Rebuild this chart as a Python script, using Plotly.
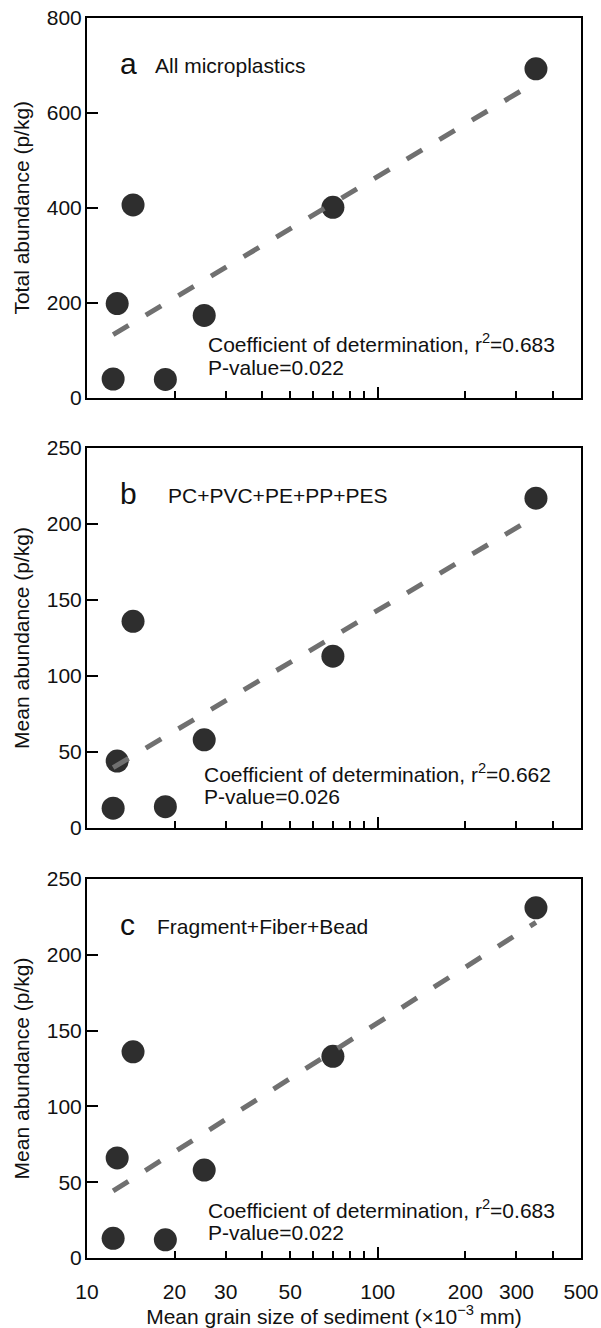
import numpy as np
import plotly.graph_objects as go

# ---- data ----
grain_size = [12.3, 12.7, 14.4, 18.6, 25.3, 70.1, 350.0]
total_abundance = [39, 198, 406, 38, 173, 401, 693]
polymer_abundance = [13, 44, 136, 14, 58, 113, 217]
shape_abundance = [13, 66, 136, 12, 58, 133, 231]

panel_letters = ["a", "b", "c"]
panel_titles = ["All microplastics", "PC+PVC+PE+PP+PES", "Fragment+Fiber+Bead"]
r2_labels = ["0.683", "0.662", "0.683"]
p_labels = ["0.022", "0.026", "0.022"]
y_titles = ["Total abundance (p/kg)", "Mean abundance (p/kg)", "Mean abundance (p/kg)"]
y_ranges = [[0, 800], [0, 250], [0, 250]]
y_dticks = [200, 50, 50]

x_label_vals = [10, 20, 30, 50, 100, 200, 300, 500]
x_minor_vals = [40, 60, 70, 80, 90, 400]
x_title = "Mean grain size of sediment (×10<sup>−3</sup> mm)"

series = [total_abundance, polymer_abundance, shape_abundance]

FONT = "Liberation Sans, Arial, sans-serif"
TXT = "#111111"
MARK = "#2e2e2e"
LINEC = "#707070"

W, H = 601, 1328
M_L, M_R, M_T, M_B = 87, 20, 18, 70
plot_h = H - M_T - M_B
def dom(top_px, bot_px):
    return [(plot_h - (bot_px - M_T)) / plot_h, (plot_h - (top_px - M_T)) / plot_h]
# panel boxes in page pixels (top, bottom)
domains = [dom(18, 397.5), dom(448, 828), dom(879, 1258)]

fig = go.Figure()
lx = np.log10(np.array(grain_size))
for i, ys in enumerate(series):
    ax = "" if i == 0 else str(i + 1)
    fig.add_trace(go.Scatter(
        x=grain_size, y=ys, mode="markers", xaxis="x" + ax, yaxis="y" + ax,
        marker=dict(size=23, color=MARK, line=dict(width=0)),
        showlegend=False, hoverinfo="skip"))
    slope, icpt = np.polyfit(lx, np.array(ys, dtype=float), 1)
    xf = np.array([min(grain_size), max(grain_size)])
    yf = icpt + slope * np.log10(xf)
    fig.add_trace(go.Scatter(
        x=xf, y=yf, mode="lines", xaxis="x" + ax, yaxis="y" + ax,
        line=dict(color=LINEC, width=5, dash="18px,20px"),
        showlegend=False, hoverinfo="skip"))
    # overlay axis carrying the longer tick at 100
    fig.add_trace(go.Scatter(
        x=[100], y=[y_ranges[i][0]], mode="markers", xaxis="x" + str(i + 4), yaxis="y" + ax,
        marker=dict(size=1, opacity=0), showlegend=False, hoverinfo="skip"))

layout = dict(
    width=W, height=H,
    margin=dict(l=M_L, r=M_R, t=M_T, b=M_B, autoexpand=False),
    paper_bgcolor="white", plot_bgcolor="white",
    font=dict(family=FONT, size=21, color=TXT),
    showlegend=False,
)

annotations = []
for i in range(3):
    ax = "" if i == 0 else str(i + 1)
    xname = "xaxis" + ax
    yname = "yaxis" + ax
    xa = dict(
        type="log", range=[1, np.log10(500)], domain=[0, 1], anchor="y" + ax,
        automargin=False, ticklabeloverflow="allow",
        showline=True, linecolor="black", linewidth=2, mirror=True,
        showgrid=False, zeroline=False,
        ticks="inside", ticklen=7, tickwidth=2, tickcolor="black",
        tickmode="array", tickvals=x_label_vals, ticktext=[str(v) for v in x_label_vals],
        minor=dict(tickmode="array", tickvals=x_minor_vals, ticks="inside", ticklen=7,
                   tickwidth=2, tickcolor="black", showgrid=False),
        showticklabels=(i == 2), ticklabelstandoff=14,
        tickfont=dict(size=21, color=TXT),
    )
    if i == 2:
        xa["title"] = dict(text=x_title, font=dict(size=21, color=TXT), standoff=10)
    layout[xname] = xa
    layout["xaxis" + str(i + 4)] = dict(
        type="log", range=[1, np.log10(500)], overlaying="x" + ax, anchor="y" + ax,
        automargin=False,
        showline=False, showgrid=False, zeroline=False, showticklabels=False,
        ticks="inside", ticklen=11, tickwidth=2, tickcolor="black",
        tickmode="array", tickvals=[100], side="bottom",
    )
    layout[yname] = dict(
        range=y_ranges[i], domain=domains[i], anchor="x" + ax,
        automargin=False, ticklabeloverflow="allow",
        showline=True, linecolor="black", linewidth=2, mirror=True,
        showgrid=False, zeroline=False,
        ticks="inside", ticklen=11, tickwidth=2, tickcolor="black",
        dtick=y_dticks[i], tick0=0, ticklabelstandoff=-1,
        tickfont=dict(size=21, color=TXT),
        title=dict(text=y_titles[i], font=dict(size=21, color=TXT), standoff=11),
    )
    xr = "x" + ax + " domain"
    yr = "y" + ax + " domain"
    annotations += [
        dict(text=panel_letters[i], xref=xr, yref=yr, x=0.063, y=0.88,
             xanchor="left", yanchor="middle", showarrow=False,
             font=dict(size=30, color=TXT)),
        dict(text=panel_titles[i], xref=xr, yref=yr, x=[0.134, 0.16, 0.138][i], y=0.875,
             xanchor="left", yanchor="middle", showarrow=False,
             font=dict(size=21, color=TXT)),
        dict(text="Coefficient of determination, r<sup>2</sup>=" + r2_labels[i],
             xref=xr, yref=yr, x=[0.24, 0.232, 0.24][i], y=[0.143, 0.145, 0.13][i],
             xanchor="left", yanchor="middle", showarrow=False,
             font=dict(size=21, color=TXT)),
        dict(text="P-value=" + p_labels[i],
             xref=xr, yref=yr, x=[0.24, 0.232, 0.24][i], y=[0.08, 0.082, 0.068][i],
             xanchor="left", yanchor="middle", showarrow=False,
             font=dict(size=21, color=TXT)),
    ]
layout["annotations"] = annotations
fig.update_layout(**layout)
fig.write_html("out.html", config={"displayModeBar": False},
               post_script="document.body.style.margin='0';document.body.style.overflow='hidden';")
